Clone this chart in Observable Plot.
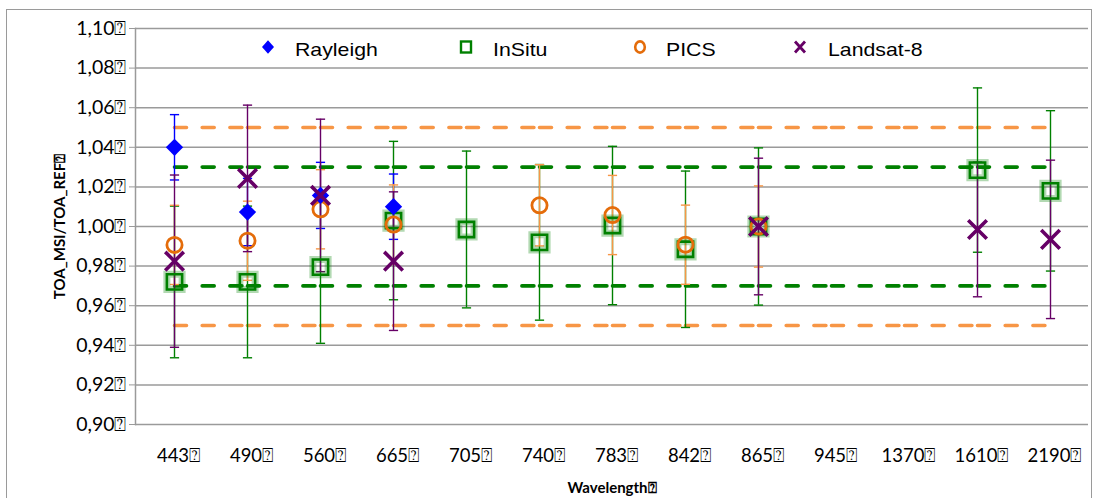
<!DOCTYPE html>
<html><head><meta charset="utf-8">
<script src="https://cdn.jsdelivr.net/npm/d3@7"></script>
<script src="https://cdn.jsdelivr.net/npm/@observablehq/plot@0.6"></script>
<style>
body{margin:0;background:#fff;}
#wrap{position:relative;width:1094px;height:498px;overflow:hidden;}
#border{position:absolute;left:6px;top:9px;width:1086px;height:520px;border:1.5px solid #9a9a9a;box-sizing:border-box;}
#legend{position:absolute;left:0;top:0;}
.lt{position:absolute;font:19px "Liberation Sans",Arial,sans-serif;color:#000;line-height:20px;top:40px;white-space:nowrap;transform:scaleX(1.12);transform-origin:left center;}
.lm{position:absolute;top:37px;}
#chart{position:absolute;left:0;top:0;}
</style></head><body>
<div id="wrap"><div id="border"></div><div id="chart"></div><div id="legend"></div></div>
<script>
const BOX = "\u2370";
const wavelengths = ["443","490","560","665","705","740","783","842","865","945","1370","1610","2190"];
const rayleigh    = [1.040, 1.0073, 1.0157, 1.010, null, null, null, null, null, null, null, null, null];
const rayleighErr = [0.0165, 0.017, 0.0167, 0.0165, null, null, null, null, null, null, null, null, null];
const insitu      = [0.972, 0.972, 0.9795, 1.003, 0.9985, 0.992, 1.0005, 0.9885, 1.000, null, null, 1.0285, 1.018];
const insituErr   = [0.0383, 0.0383, 0.0385, 0.040, 0.0396, 0.0393, 0.040, 0.0395, 0.0397, null, null, 0.0415, 0.0405];
const pics        = [0.9907, 0.9928, 1.0087, 1.001, null, 1.0107, 1.0058, 0.9908, 1.000, null, null, null, null];
const picsErr     = [0.020, 0.020, 0.020, 0.020, null, 0.0205, 0.020, 0.020, 0.0205, null, null, null, null];
const landsat     = [0.9825, 1.0243, 1.0157, 0.9825, null, null, null, null, 1.000, null, null, 0.9985, 0.9935];
const landsatErr  = [0.0435, 0.037, 0.0385, 0.035, null, null, null, null, 0.0345, null, null, 0.034, 0.040];
const yTicks = [0.90, 0.92, 0.94, 0.96, 0.98, 1.00, 1.02, 1.04, 1.06, 1.08, 1.10];
const limitsOrange = [0.95, 1.05];
const limitsGreen = [0.97, 1.03];
const seriesNames = ["Rayleigh", "InSitu", "PICS", "Landsat-8"];

const cBlue = "#0000ff", cGreen = "#008000", cOrange = "#e46c0a", cOrangeLight = "#f79646", cPurple = "#660066";

const rows = (vals, errs) => wavelengths.map((w, i) => ({w, v: vals[i], e: errs[i]})).filter(d => d.v != null);
const R = rows(rayleigh, rayleighErr), S = rows(insitu, insituErr), P = rows(pics, picsErr), L = rows(landsat, landsatErr);
const segs = wavelengths.slice(0, -1).map((w, i) => ({a: w, b: wavelengths[i + 1]}));
const capSymbol = {draw(ctx, size) { const w = Math.sqrt(size) / 2; ctx.moveTo(-w, 0); ctx.lineTo(w, 0); }};

function errMarks(data, color, sw) {
  return [
    Plot.ruleX(data, {x: "w", y1: d => d.v - d.e, y2: d => d.v + d.e, stroke: color, strokeWidth: sw}),
    Plot.dot(data, {x: "w", y: d => d.v + d.e, symbol: capSymbol, r: 5.2, stroke: color, fill: "none", strokeWidth: 1.4}),
    Plot.dot(data, {x: "w", y: d => d.v - d.e, symbol: capSymbol, r: 5.2, stroke: color, fill: "none", strokeWidth: 1.4})
  ];
}
function dashMarks(level, color) {
  return Plot.link(segs, {x1: "a", x2: "b", y1: () => level, y2: () => level, stroke: color, strokeWidth: 3.6, strokeDasharray: "12,15.7", strokeLinecap: "round"});
}

const chart = Plot.plot({
  width: 1094, height: 498,
  marginLeft: 135, marginRight: 6, marginTop: 28, marginBottom: 74,
  style: {fontFamily: "Lato, 'DejaVu Sans'", background: "transparent"},
  x: {type: "point", domain: wavelengths, padding: 0.5},
  y: {domain: [0.90, 1.10]},
  marks: [
    Plot.gridY(yTicks, {stroke: "#9a9a9a", strokeOpacity: 1, strokeWidth: 1.5}),
    Plot.frame({anchor: "left", stroke: "#9a9a9a", strokeWidth: 1.5}),
    Plot.axisY(yTicks, {tickSize: 6, tickPadding: 3, stroke: "#9a9a9a", fontSize: 19.5, fill: "#000", tickFormat: v => v.toFixed(2).replace(".", ",") + BOX, label: null}),
    Plot.axisX({tickSize: 0, tickPadding: 24, dx: 4, fontSize: 18.5, fill: "#000", tickFormat: w => w + BOX, label: null}),
    Plot.text(["TOA_MSI/TOA_REF" + BOX], {frameAnchor: "left", textAnchor: "middle", dx: -75, rotate: -90, fontWeight: "bold", fontSize: 15, fill: "#000"}),
    Plot.text(["Wavelength" + BOX], {frameAnchor: "bottom", dy: 68, fontWeight: "bold", fontSize: 15, fill: "#000"}),
    ...limitsOrange.map(l => dashMarks(l, cOrangeLight)),
    ...limitsGreen.map(l => dashMarks(l, cGreen)),
    ...errMarks(S, cGreen, 1.4),
    ...errMarks(R, cBlue, 1.4),
    ...errMarks(P, cOrangeLight, 1.4),
    ...errMarks(L, cPurple, 1.4),
    Plot.dot(S, {x: "w", y: "v", symbol: "square", r: 8.6, stroke: cGreen, strokeWidth: 7, strokeOpacity: 0.3, fill: "none"}),
    Plot.dot(S, {x: "w", y: "v", symbol: "square", r: 8.6, stroke: cGreen, strokeWidth: 2.6, fill: "white", fillOpacity: 0}),
    Plot.dot(P, {x: "w", y: "v", symbol: "circle", r: 7.6, stroke: cOrange, strokeWidth: 2.8, fill: "none"}),
    Plot.dot(R, {x: "w", y: "v", symbol: "diamond2", r: 7.8, fill: cBlue, stroke: "none"}),
    Plot.dot(L, {x: "w", y: "v", symbol: "times", r: 8.5, stroke: cPurple, strokeWidth: 3.6})
  ]
});
document.getElementById("chart").appendChild(chart);

// legend
const legendItems = [
  {name: seriesNames[0], mx: 268, tx: 295, svg: `<svg width="16" height="20" viewBox="-8 -10 16 20"><path d="M0,-6.8L6,0L0,6.8L-6,0Z" fill="${cBlue}"/></svg>`},
  {name: seriesNames[1], mx: 466, tx: 493, svg: `<svg width="16" height="20" viewBox="-8 -10 16 20"><rect x="-5" y="-5.5" width="10" height="11" fill="none" stroke="${cGreen}" stroke-width="2.4"/></svg>`},
  {name: seriesNames[2], mx: 640, tx: 666, svg: `<svg width="16" height="20" viewBox="-8 -10 16 20"><ellipse cx="0" cy="0" rx="4.8" ry="5.6" fill="none" stroke="${cOrange}" stroke-width="2.6"/></svg>`},
  {name: seriesNames[3], mx: 800, tx: 828, svg: `<svg width="16" height="20" viewBox="-8 -10 16 20"><path d="M-5,-5.5L5,5.5M5,-5.5L-5,5.5" stroke="${cPurple}" stroke-width="2.8"/></svg>`}
];
const leg = document.getElementById("legend");
for (const it of legendItems) {
  const m = document.createElement("div"); m.className = "lm"; m.style.left = (it.mx - 8) + "px"; m.innerHTML = it.svg; leg.appendChild(m);
  const t = document.createElement("div"); t.className = "lt"; t.style.left = it.tx + "px"; t.textContent = it.name; leg.appendChild(t);
}
</script>
</body></html>
